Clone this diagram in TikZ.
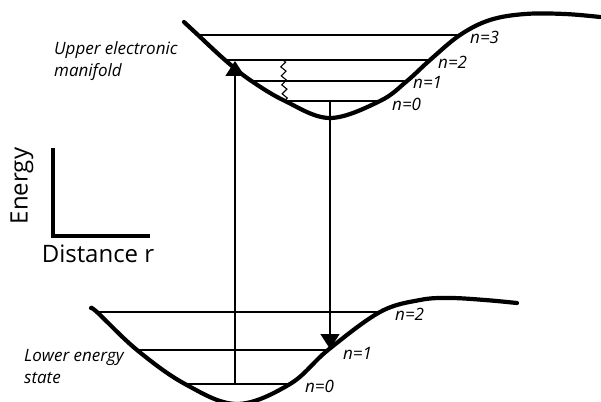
\documentclass[tikz,border=0pt]{standalone}
\usepackage{fontspec}
\setmainfont{Open Sans}
\usetikzlibrary{arrows.meta,decorations.pathmorphing}
\begin{document}
\begin{tikzpicture}[x=1pt,y=-1pt,
  curve/.style={line width=4.2pt,line cap=round},
  level/.style={line width=1.5pt},
  trans/.style={line width=1.5pt,-{Triangle[width=19pt,length=15pt]}},
  lab/.style={font=\itshape\fontsize{17}{17}\selectfont,inner sep=0pt,anchor=west},
  side/.style={font=\itshape\fontsize{17}{22}\selectfont,inner sep=0pt,anchor=west,align=left},
  big/.style={font=\fontsize{24}{24}\selectfont,inner sep=0pt}]
\useasboundingbox (0,0) rectangle (601,401);
\begin{scope}
\clip (0,0) rectangle (601,401);
% upper potential
\draw[curve] plot[smooth,tension=0.6] coordinates {(184,22) (198,35) (225,60) (250,80) (285,101) (330,118) (380,101) (407,81) (430,60) (460,35) (490,20) (525,14) (565,14) (600,17)};
% lower potential
\draw[curve] plot[smooth,tension=0.6] coordinates {(91,308) (98,313) (137,350) (185,384) (237,404) (290,384) (328,350) (380,312) (420,300) (450,298) (485,300) (517,303)};
\end{scope}
% upper levels
\coordinate (u3l) at (198,35); \coordinate (u3r) at (460,35);
\coordinate (u2l) at (225,60); \coordinate (u2r) at (430,60);
\coordinate (u1l) at (250,81); \coordinate (u1r) at (407,81);
\coordinate (u0l) at (285,101); \coordinate (u0r) at (380,101);
\draw[level] (u3l) -- (u3r);
\draw[level] (u2l) -- (u2r);
\draw[level] (u1l) -- (u1r);
\draw[level] (u0l) -- (u0r);
% lower levels
\coordinate (l2l) at (98,312); \coordinate (l2r) at (380,312);
\coordinate (l1l) at (137,350); \coordinate (l1r) at (328,350);
\coordinate (l0l) at (185,384); \coordinate (l0r) at (290,384);
\draw[level] (l2l) -- (l2r);
\draw[level] (l1l) -- (l1r);
\draw[level] (l0l) -- (l0r);
% labels
\node[lab] (n3u) at (470,37) {n=3};
\node[lab] (n2u) at (438,62) {n=2};
\node[lab] (n1u) at (413,82) {n=1};
\node[lab] (n0u) at (392,104) {n=0};
\node[lab] (n2l) at (395,314) {n=2};
\node[lab] (n1l) at (343,353) {n=1};
\node[lab] (n0l) at (305,386) {n=0};
% transitions
\coordinate (absA) at (235,384); \coordinate (absB) at (235,61);
\draw[trans] (absA) -- (absB);
\coordinate (emA) at (330,101); \coordinate (emB) at (330,349);
\draw[trans] (emA) -- (emB);
% relaxation
\coordinate (rA) at (283,60); \coordinate (rB) at (285,101);
\draw[line width=1.1pt,decorate,decoration={zigzag,segment length=9pt,amplitude=2.5pt}] (rA) -- (rB);
% side texts
\node[side] (up) at (54,61) {Upper electronic\\manifold};
\node[side] (lo) at (24,367) {Lower energy\\state};
% axes
\coordinate (ax0) at (53,236); \coordinate (axy) at (53,148); \coordinate (axx) at (150,236);
\draw[line width=4pt] (axy) -- (ax0) -- (axx);
\node[big,rotate=90] (en) at (22,186) {Energy};
\node[big] (dist) at (98,254) {Distance r};
\end{tikzpicture}
\end{document}
